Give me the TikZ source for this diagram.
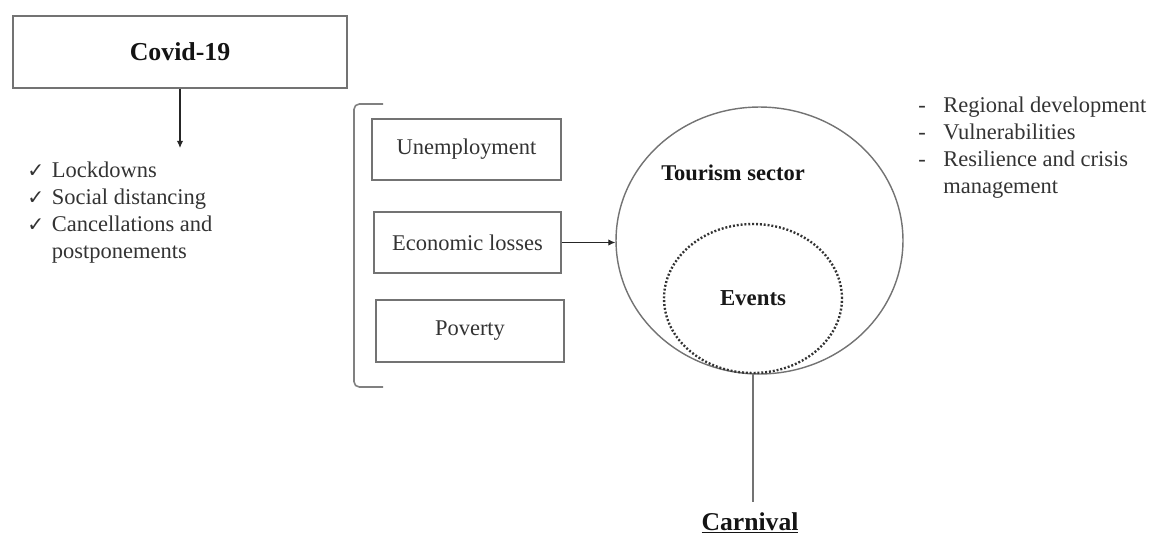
\documentclass[tikz,border=0pt]{standalone}
\usepackage{fontspec}
\setmainfont{Liberation Serif}
\newfontfamily\symfont{DejaVu Sans}
\usetikzlibrary{shapes.geometric,arrows.meta}
\tikzset{
  txt/.style={text=black!88, inner sep=0pt},
  box/.style={draw=black!55, line width=0.75pt, rectangle, inner sep=0pt, text=black!80,
              font=\fontsize{12.8}{15.5}\selectfont},
  conn/.style={draw=black!85, line width=0.6pt, -{Latex[length=4pt,width=3.6pt]}},
  plainline/.style={draw=black!55, line width=0.8pt},
  bracketline/.style={draw=black!50, line width=0.9pt, rounded corners=3pt},
  outerell/.style={ellipse, draw=black!55, line width=0.8pt, inner sep=0pt},
  dottedell/.style={ellipse, draw=black!80, line width=1.35pt, dash pattern=on 1.1pt off 1.1pt, inner sep=0pt,
                    font=\fontsize{13}{15.5}\selectfont\bfseries, text=black!90},
  listfont/.style={font=\fontsize{12.8}{15.5}\selectfont, text=black!80}
}
\newcommand{\chk}{\makebox[14pt][l]{\fontsize{11.5}{12}\symfont ✓}}
\newcommand{\dsh}{\makebox[14.2pt][l]{-}}
\begin{document}
\begin{tikzpicture}[x=0.02cm, y=-0.02cm]
\useasboundingbox (0,0) rectangle (1150,534);

% Covid box
\node[box, minimum width=6.68cm, minimum height=1.44cm,
      font=\fontsize{14.7}{17}\selectfont\bfseries, text=black!92] (covid) at (180,52) {Covid-19};
\coordinate (arrowend) at (180,148);
\draw[conn] (covid.south) -- (arrowend);

% left list
\node[txt, listfont, anchor=base west] (effects) at (27,177)
  {\begin{tabular}[t]{@{}l@{}l@{}}
   \chk & Lockdowns\\
   \chk & Social distancing\\
   \chk & Cancellations and\\
        & postponements
   \end{tabular}};

% bracket
\draw[bracketline] (383,104) -- (354,104) -- (354,387) -- (383,387);

% three boxes
\node[box, minimum width=3.78cm, minimum height=1.22cm] (unemp) at (466.5,149.5) {Unemployment};
\node[box, minimum width=3.74cm, minimum height=1.22cm] (econ) at (467.5,242.5) {Economic losses};
\node[box, minimum width=3.76cm, minimum height=1.24cm] (poverty) at (470,331) {Poverty};

% tourism ellipse
\node[outerell, minimum width=5.74cm, minimum height=5.34cm] (tourism) at (759.5,240.5) {};
\node[txt, font=\fontsize{12.8}{15.5}\selectfont\bfseries, text=black!92] (tourismlabel) at (733,173) {Tourism sector};
\node[dottedell, minimum width=3.56cm, minimum height=2.98cm] (events) at (753,298.5) {\raisebox{-3pt}{Events}};

\draw[conn] (econ.east) -- (econ.east -| tourism.west);

% right list
\node[txt, listfont, anchor=base west] (aspects) at (918,112)
  {\begin{tabular}[t]{@{}l@{}l@{}}
   \dsh & Regional development\\
   \dsh & Vulnerabilities\\
   \dsh & Resilience and crisis\\
        & management
   \end{tabular}};

% carnival
\node[txt, anchor=base, inner ysep=5.8pt, font=\fontsize{14.6}{17}\selectfont\bfseries, text=black!92] (carnival) at (750,530) {\underline{Carnival}};
\draw[plainline] (events.south) -- (events.south |- carnival.north);
\end{tikzpicture}
\end{document}
